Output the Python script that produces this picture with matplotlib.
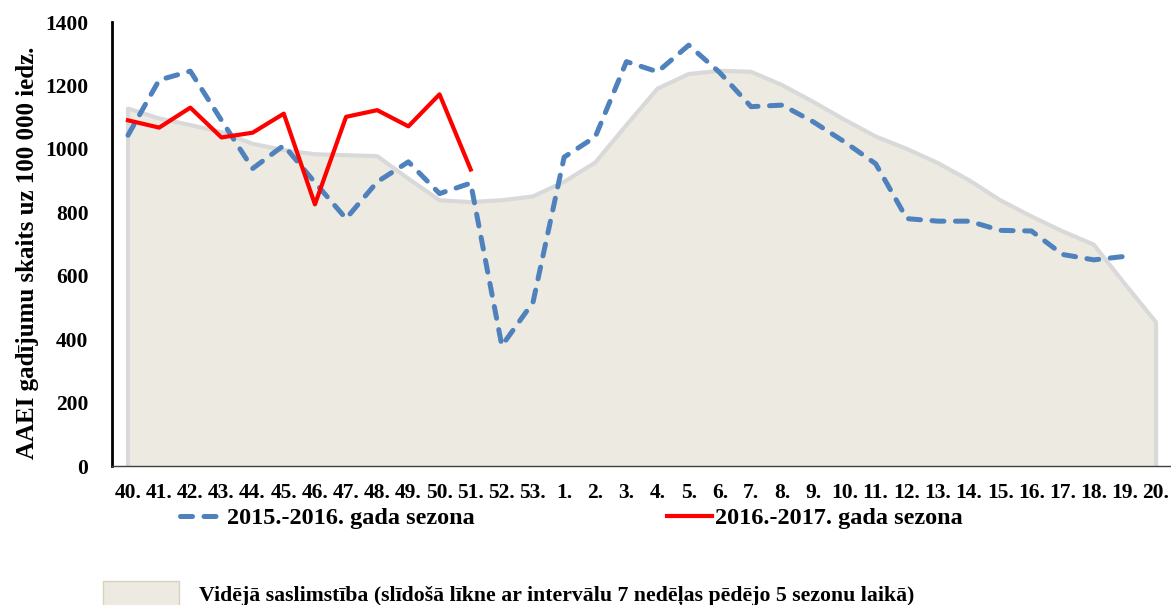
import matplotlib.pyplot as plt
from matplotlib.lines import Line2D
from matplotlib.patches import Patch

plt.rcParams['font.family'] = ['Liberation Serif', 'DejaVu Serif']
plt.rcParams['font.weight'] = 'bold'

weeks = ['40.', '41.', '42.', '43.', '44.', '45.', '46.', '47.', '48.', '49.',
         '50.', '51.', '52.', '53.', '1.', '2.', '3.', '4.', '5.', '6.', '7.',
         '8.', '9.', '10.', '11.', '12.', '13.', '14.', '15.', '16.', '17.',
         '18.', '19.', '20.']

# 2015.-2016. season (until week 19)
season_2015 = [1043, 1217, 1245, 1090, 938, 1011, 894, 780, 896, 959, 859, 892,
               379, 516, 974, 1038, 1275, 1243, 1327, 1240, 1133, 1138, 1085,
               1022, 953, 780, 772, 772, 743, 741, 667, 650, 661]

# 2016.-2017. season (until week 51)
season_2016 = [1090, 1067, 1130, 1036, 1051, 1111, 825, 1101, 1122, 1071, 1172, 935]

# average of last 5 seasons
average = [1127, 1096, 1075, 1053, 1016, 996, 983, 980, 977, 906, 838, 832, 838,
           850, 896, 957, 1075, 1190, 1236, 1246, 1243, 1201, 1148, 1092, 1039,
           1000, 955, 901, 838, 787, 740, 698, 574, 453]

fill_col = '#EDEBE1'
edge_col = '#D9D9D9'
blue = '#4F81BD'
red = '#FF0000'

fig = plt.figure(figsize=(11.71, 6.05), dpi=100)
ax = fig.add_axes([112 / 1171, 139 / 605, 1059 / 1171, 444 / 605])

x_all = list(range(len(weeks)))
ax.fill_between(x_all, 0, average, facecolor=fill_col, edgecolor='none', zorder=1)
ax.plot([x_all[0]] + x_all + [x_all[-1]], [0] + average + [0],
        color=edge_col, lw=3, zorder=2)

bl, = ax.plot(x_all[:len(season_2015)], season_2015, color=blue, lw=3.6,
              dashes=(2.4, 2.3), dash_capstyle='round', zorder=3)
rl, = ax.plot(x_all[:len(season_2016)], season_2016, color=red, lw=3, zorder=4)

ax.set_xlim(-0.514, 33.48)
ax.set_ylim(0, 1400)
ax.set_yticks(range(0, 1401, 200))
ax.set_xticks(x_all)
ax.set_xticklabels(weeks)
ax.tick_params(axis='both', length=0, labelsize=15.5)
ax.tick_params(axis='y', pad=17)
ax.tick_params(axis='x', pad=12)

for s in ['top', 'right']:
    ax.spines[s].set_visible(False)
ax.spines['left'].set_linewidth(2)
ax.spines['left'].set_color('black')
ax.spines['bottom'].set_linewidth(1)
ax.spines['bottom'].set_color('#404040')

fig.text(28 / 1171, 1 - 253 / 605, 'AAEI gadījumu skaits uz 100 000 iedz.',
         rotation=90, ha='center', va='center', fontsize=18, fontweight='bold')

h_blue = Line2D([], [], color=blue, lw=3.6, dashes=(2.4, 2.3), dash_capstyle='round')
h_red = Line2D([], [], color=red, lw=3)
fig.legend(handles=[h_blue, h_red],
           labels=['2015.-2016. gada sezona', '2016.-2017. gada sezona'],
           loc='center left', bbox_to_anchor=(180 / 1171, 1 - 518 / 605),
           ncol=2, frameon=False, fontsize=17.5, handlelength=1.85,
           handletextpad=0.1, columnspacing=7.9, borderpad=0, borderaxespad=0)

h_avg = Patch(facecolor=fill_col, edgecolor='#D6D2BE', lw=1)
fig.legend(handles=[h_avg],
           labels=['Vidējā saslimstība (slīdošā līkne ar intervālu 7 nedēļas pēdējo 5 sezonu laikā)'],
           loc='center left', bbox_to_anchor=(103 / 1171, 1 - 594 / 605),
           frameon=False, fontsize=15.7, handlelength=3.5, handleheight=1.5,
           handletextpad=0.9, borderpad=0, borderaxespad=0)

fig.savefig('out.png', dpi=100)
